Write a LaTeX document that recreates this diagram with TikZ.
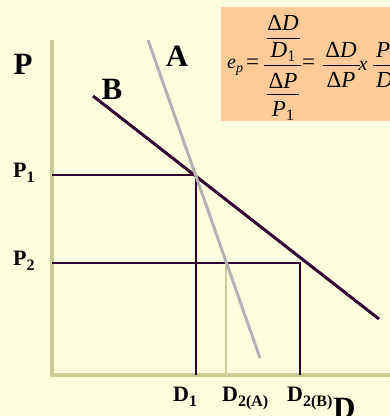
\documentclass[tikz,border=0pt]{standalone}
\usepackage{fontspec}
\setmainfont{Liberation Serif}
\definecolor{cream}{HTML}{FFFFE0}
\definecolor{khaki}{HTML}{CCCC99}
\definecolor{plum}{HTML}{330033}
\definecolor{greyA}{HTML}{B2B2B2}
\definecolor{peach}{HTML}{FFCC99}
% bold label with a lowered subscript
\newcommand{\lbl}[2]{{\bfseries #1}\raisebox{-0.25em}{\fontsize{16}{16}\selectfont\bfseries #2}}
% italic letter with an upright index
\newcommand{\isub}[2]{\textit{#1}\raisebox{-0.2em}{\fontsize{16}{16}\selectfont #2}}

\begin{document}
\begin{tikzpicture}[
        x=1pt, y=-1pt,
        axis/.style={draw=khaki, line width=4pt},
        demand/.style={line width=3pt},
        guide/.style={draw=plum, line width=1.5pt},
        big/.style={font=\fontsize{31}{31}\selectfont\bfseries, inner sep=0pt},
        small/.style={font=\fontsize{22}{22}\selectfont, inner sep=0pt, anchor=base west},
        eq/.style={font=\fontsize{23}{23}\selectfont, inner sep=0pt, anchor=base},
        bar/.style={draw=black, line width=1pt},
    ]
    \useasboundingbox (0,0) rectangle (390,416);
    \fill[cream] (0,0) rectangle (390,416);
    \clip (0,0) rectangle (390,416);

    % formula box
    \fill[peach] (221,7) rectangle (392,121);
    \node[eq, anchor=base west, font=\fontsize{20}{20}\selectfont] (ep) at (227,68)
        {\textit{e}\raisebox{-0.2em}{\fontsize{14}{14}\selectfont\textit{p}}};
    \node[eq, anchor=center] (eqA) at (252.5,64.5) {=};
    \node[eq] (dD) at (283,30) {Δ\textit{D}};
    \node[eq] (dD1) at (283,57) {\isub{D}{1}};
    \node[eq] (dP) at (283,88) {Δ\textit{P}};
    \node[eq] (dP1) at (283,116) {\isub{P}{1}};
    \draw[bar] (267,38) -- (300,38);
    \draw[bar] (264,65) -- (301,65);
    \draw[bar] (267,94) -- (299,94);
    \node[eq, anchor=center] (eqB) at (308.5,64.5) {=};
    \node[eq] (rD) at (341,57) {Δ\textit{D}};
    \node[eq] (rP) at (341,87) {Δ\textit{P}};
    \draw[bar] (323,65) -- (360,65);
    \node[eq, font=\fontsize{20}{20}\selectfont] (times) at (363,70) {\textit{x}};
    \node[eq, anchor=base west] (qP) at (376,57) {\isub{P}{1}};
    \node[eq, anchor=base west] (qD) at (376,87) {\isub{D}{1}};
    \draw[bar] (373,65) -- (400,65);

    % axes
    \coordinate (o) at (52,375);
    \coordinate (ptop) at (52,40);
    \coordinate (dend) at (392,375);
    \draw[axis] (ptop) -- (o) -- (dend);

    % equilibrium points and feet
    \coordinate (e1) at (196,175);
    \coordinate (e2a) at (226,263);
    \coordinate (e2b) at (300,263);
    \coordinate (p1) at (52,175);
    \coordinate (p2) at (52,263);
    \coordinate (d1) at (196,375);
    \coordinate (d2a) at (226,375);
    \coordinate (d2b) at (300,375);
    \draw[guide] (p1) -- (e1) -- (d1);
    \draw[guide] (p2) -- (e2b) -- (d2b);
    \draw[draw=khaki, line width=1.5pt] (e2a) -- (d2a);

    % demand curves
    \coordinate (b1) at (93,96);
    \coordinate (b2) at (379,319);
    \coordinate (a1) at (148,40);
    \coordinate (a2) at (260,358);
    \draw[demand, plum] (b1) -- (b2);
    \draw[demand, greyA] (a1) -- (a2);

    % labels
    \node[big] (labP) at (23,64) {P};
    \node[big] (labA) at (177,56) {A};
    \node[big] (labB) at (112,89) {B};
    \node[big, anchor=base west] (labD) at (333,418) {D};
    \node[small] (labP1) at (13,177) {\lbl{P}{1}};
    \node[small] (labP2) at (13,265) {\lbl{P}{2}};
    \node[small] (labD1) at (173,401) {\lbl{D}{1}};
    \node[small] (labD2A) at (222,401) {\lbl{D}{2(A)}};
    \node[small] (labD2B) at (287,401) {\lbl{D}{2(B)}};
\end{tikzpicture}
\end{document}
